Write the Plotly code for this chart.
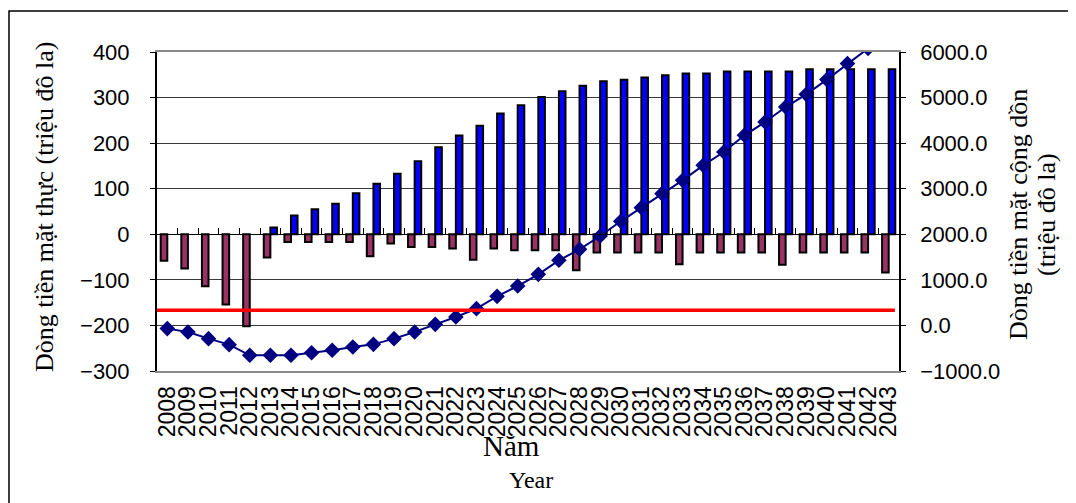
import plotly.graph_objects as go

# ---------------- data ----------------
years = [str(y) for y in range(2008, 2044)]

# net cash outflow bars (left axis, million USD)
outflow = [-58, -75, -114, -154, -202, -51, -17, -17, -17, -17,
           -48, -20, -28, -28, -31, -56, -31, -35, -35, -35,
           -79, -40, -40, -40, -40, -66, -40, -40, -40, -40,
           -67, -40, -40, -40, -40, -84]

# net cash inflow bars (left axis, million USD)
inflow = [None, None, None, None, None, 15, 41, 55, 67, 90,
          111, 133, 160, 191, 217, 238, 265, 283, 301, 314,
          326, 336, 339, 344, 349, 353, 353, 357, 357, 357,
          357, 362, 362, 362, 362, 362]

# cumulative cash flow (right axis, million USD)
cumulative = [-70, -144, -290, -422, -656, -656, -656, -598, -546, -474,
              -415, -290, -144, 24, 185, 368, 638, 865, 1121, 1429,
              1670, 1962, 2285, 2585, 2892, 3184, 3513, 3805, 4172, 4463,
              4792, 5071, 5394, 5745, 6080, 6420]

# red reference line (right axis value)
reference_level = 333

left_ticks = [400, 300, 200, 100, 0, -100, -200, -300]
right_ticks = [6000, 5000, 4000, 3000, 2000, 1000, 0, -1000]

# ---------------- figure ----------------
N = len(years)
ARIAL = "Arial, Liberation Sans, sans-serif"
TIMES = "Times New Roman, Liberation Serif, serif"

# page body has an 8px margin; plot area should be x 157..899, y 52..371
OFF = 8
PL, PR, PT, PB = 157, 899, 52, 371
PW, PH = PR - PL, PB - PT


def px(x):
    return (x - PL) / PW


def py(y):
    return (PB - y) / PH


fig = go.Figure()
fig.add_trace(go.Bar(
    x=years, y=outflow, name="outflow",
    marker=dict(color="#993366", line=dict(color="black", width=2)),
))
fig.add_trace(go.Bar(
    x=years, y=inflow, name="inflow",
    marker=dict(color="#0000FF", line=dict(color="black", width=2)),
))
fig.add_trace(go.Scatter(
    x=[-0.5, N - 0.7], y=[reference_level, reference_level],
    xaxis="x2", yaxis="y2", mode="lines",
    line=dict(color="#FF0000", width=3.5), hoverinfo="skip",
))
fig.add_trace(go.Scatter(
    x=years, y=cumulative, xaxis="x", yaxis="y2",
    mode="lines+markers",
    line=dict(color="#000080", width=2),
    marker=dict(symbol="diamond", size=12, color="#000080"),
))

W, H = 1076 - OFF, 503 - OFF
fig.update_layout(
    width=W, height=H,
    margin=dict(l=PL - OFF, r=W - (PR - OFF), t=PT - OFF, b=H - (PB - OFF)),
    plot_bgcolor="white", paper_bgcolor="white",
    barmode="group", bargap=0.36, bargroupgap=0,
    showlegend=False,
    xaxis=dict(
        type="category", range=[-0.5, N - 0.5],
        showgrid=False, zeroline=False,
        showline=True, linecolor="#8a8a8a", linewidth=2, mirror=True,
        ticks="", tickmode="linear", tick0=0, dtick=1,
        tickangle=-90, ticklabelstandoff=4,
        tickfont=dict(family=ARIAL, size=23, color="black"),
    ),
    xaxis2=dict(
        overlaying="x", anchor="free", position=3 / 7,
        range=[-0.5, N - 0.5], showgrid=False, zeroline=False,
        showline=True, linecolor="black", linewidth=1,
        ticks="inside", ticklen=6, tickcolor="black", tickwidth=1,
        tickvals=[i - 0.5 for i in range(N + 1)], showticklabels=False,
    ),
    yaxis=dict(
        range=[-300, 400], tickvals=left_ticks,
        showgrid=True, gridcolor="#3a3a3a", gridwidth=1, zeroline=False,
        showline=True, linecolor="black", linewidth=2,
        ticks="outside", ticklen=5, tickcolor="black",
        ticklabelstandoff=16,
        tickfont=dict(family=ARIAL, size=22, color="black"),
    ),
    yaxis2=dict(
        overlaying="y", side="right", anchor="x",
        range=[-1000, 6000], tickvals=right_ticks, tickformat=".1f",
        showgrid=False, zeroline=False,
        showline=True, linecolor="black", linewidth=1.5,
        ticks="outside", ticklen=5, tickcolor="black",
        ticklabelstandoff=10,
        tickfont=dict(family=ARIAL, size=22, color="black"),
    ),
)

# outer chart border
fig.add_shape(type="rect", xref="paper", yref="paper",
              x0=px(9), x1=px(1090), y0=py(520), y1=py(11),
              line=dict(color="black", width=1.5), fillcolor="rgba(0,0,0,0)",
              layer="below")

# axis titles
fig.add_annotation(text="Dòng tiền mặt thực (triệu đô la)", textangle=-90,
                   xref="paper", yref="paper", x=px(44), y=py(207),
                   xanchor="center", yanchor="middle", showarrow=False,
                   font=dict(family=TIMES, size=26, color="black"))
fig.add_annotation(text="Dòng tiền mặt cộng dồn", textangle=-90,
                   xref="paper", yref="paper", x=px(1018), y=py(215),
                   xanchor="center", yanchor="middle", showarrow=False,
                   font=dict(family=TIMES, size=26, color="black"))
fig.add_annotation(text="(triệu đô la)", textangle=-90,
                   xref="paper", yref="paper", x=px(1046), y=py(215),
                   xanchor="center", yanchor="middle", showarrow=False,
                   font=dict(family=TIMES, size=26, color="black"))
fig.add_annotation(text="Năm", xref="paper", yref="paper",
                   x=px(511), y=py(446),
                   xanchor="center", yanchor="middle", showarrow=False,
                   font=dict(family=TIMES, size=29, color="black"))
fig.add_annotation(text="Year", xref="paper", yref="paper",
                   x=px(531), y=py(480),
                   xanchor="center", yanchor="middle", showarrow=False,
                   font=dict(family=TIMES, size=24, color="black"))

fig.write_html("out.html")
